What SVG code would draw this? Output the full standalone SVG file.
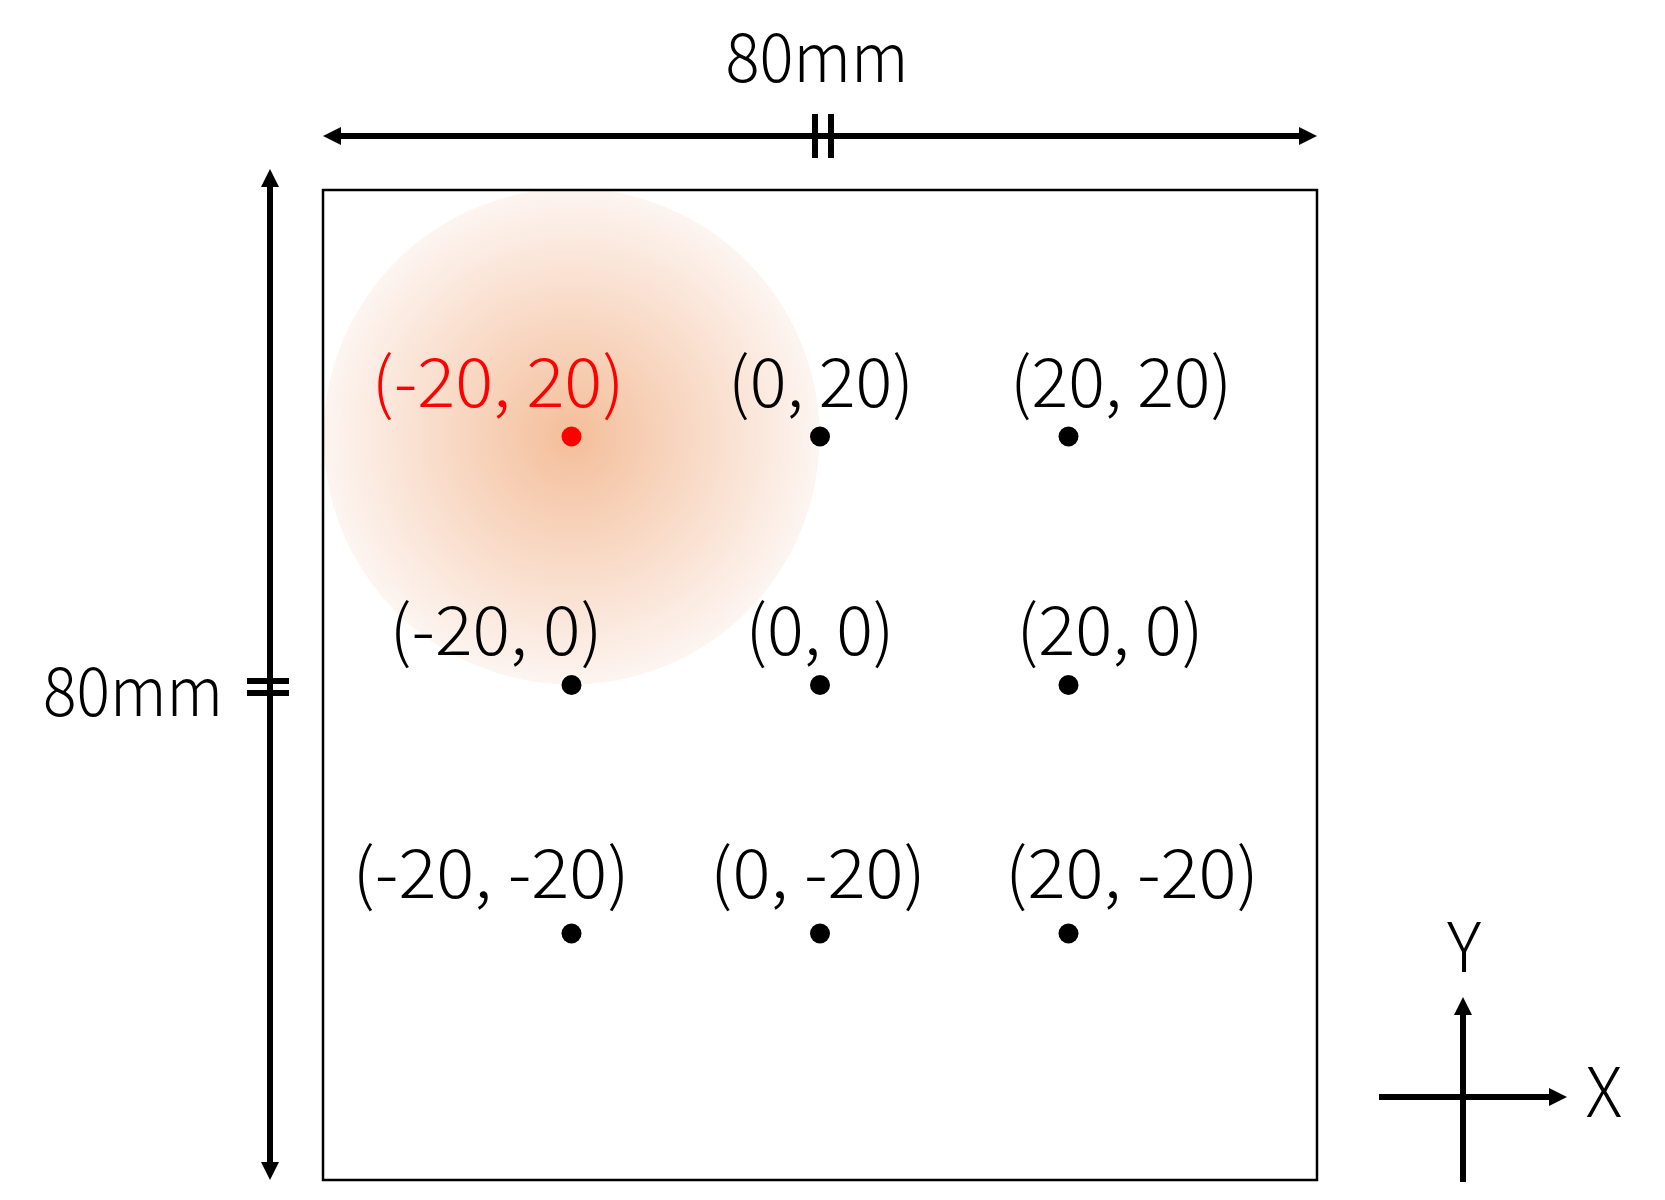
<svg xmlns="http://www.w3.org/2000/svg" width="1665" height="1200" viewBox="0 0 1665 1200">
<style>
.lbl{font-family:"Noto Sans CJK JP","Noto Sans",sans-serif;font-size:68px;font-weight:300;fill:#000;text-anchor:middle}
.red{fill:#FF0000}
.dim{stroke:#000;stroke-width:6;fill:none}
.tick{stroke:#000;stroke-width:6}
.dot{fill:#000}
</style>
<defs>
<radialGradient id="glow" cx="0.5" cy="0.5" r="0.5">
<stop offset="0" stop-color="#F4BE9A"/>
<stop offset="1" stop-color="#FDF5F1"/>
</radialGradient>
<marker id="ah" viewBox="0 0 18 18" markerUnits="userSpaceOnUse" markerWidth="18" markerHeight="18" refX="0" refY="9" orient="auto-start-reverse">
<path d="M0,0 L18,9 L0,18 Z" fill="#000"/>
</marker>
</defs>
<rect width="1665" height="1200" fill="#fff"/>
<circle id="heat" cx="571.5" cy="436.5" r="248" fill="url(#glow)"/>
<rect id="plate" x="323" y="190" width="994" height="990" fill="none" stroke="#000" stroke-width="2.5"/>
<g id="connectors">
<line class="dim" x1="341" y1="136" x2="1299" y2="136" marker-start="url(#ah)" marker-end="url(#ah)"/>
<line class="tick" x1="815" y1="114" x2="815" y2="158"/>
<line class="tick" x1="831" y1="114" x2="831" y2="158"/>
<line class="dim" x1="270" y1="187" x2="270" y2="1162" marker-start="url(#ah)" marker-end="url(#ah)"/>
<line class="tick" x1="247" y1="681" x2="289" y2="681"/>
<line class="tick" x1="247" y1="693" x2="289" y2="693"/>
<line class="dim" x1="1463" y1="1182" x2="1463" y2="1015" marker-end="url(#ah)"/>
<line class="dim" x1="1379" y1="1097" x2="1549" y2="1097" marker-end="url(#ah)"/>
</g>
<g id="dim-labels">
<text class="lbl" x="817" y="82" font-size="66" textLength="183" lengthAdjust="spacingAndGlyphs">80mm</text>
<text class="lbl" x="133" y="716" font-size="66" textLength="180" lengthAdjust="spacingAndGlyphs">80mm</text>
<text class="lbl" x="1464" y="972">Y</text>
<text class="lbl" x="1604" y="1117">X</text>
</g>
<g id="p-m20-20"><circle cx="571.5" cy="436.5" r="10" class="red"/><text class="lbl red" x="498" y="407" textLength="253" lengthAdjust="spacingAndGlyphs">(-20, 20)</text></g>
<g id="p-0-20"><circle cx="820" cy="436.5" r="10" class="dot"/><text class="lbl" x="821" y="407" textLength="186" lengthAdjust="spacingAndGlyphs">(0, 20)</text></g>
<g id="p-20-20"><circle cx="1068.5" cy="436.5" r="10" class="dot"/><text class="lbl" x="1121" y="407" textLength="222" lengthAdjust="spacingAndGlyphs">(20, 20)</text></g>
<g id="p-m20-0"><circle cx="571.5" cy="685" r="10" class="dot"/><text class="lbl" x="496" y="655" textLength="213" lengthAdjust="spacingAndGlyphs">(-20, 0)</text></g>
<g id="p-0-0"><circle cx="820" cy="685" r="10" class="dot"/><text class="lbl" x="820" y="655" textLength="149" lengthAdjust="spacingAndGlyphs">(0, 0)</text></g>
<g id="p-20-0"><circle cx="1068.5" cy="685" r="10" class="dot"/><text class="lbl" x="1110" y="655" textLength="187" lengthAdjust="spacingAndGlyphs">(20, 0)</text></g>
<g id="p-m20-m20"><circle cx="571.5" cy="933.5" r="10" class="dot"/><text class="lbl" x="491" y="898" textLength="277" lengthAdjust="spacingAndGlyphs">(-20, -20)</text></g>
<g id="p-0-m20"><circle cx="820" cy="933.5" r="10" class="dot"/><text class="lbl" x="818" y="898" textLength="216" lengthAdjust="spacingAndGlyphs">(0, -20)</text></g>
<g id="p-20-m20"><circle cx="1068.5" cy="933.5" r="10" class="dot"/><text class="lbl" x="1132" y="898" textLength="254" lengthAdjust="spacingAndGlyphs">(20, -20)</text></g>
</svg>
